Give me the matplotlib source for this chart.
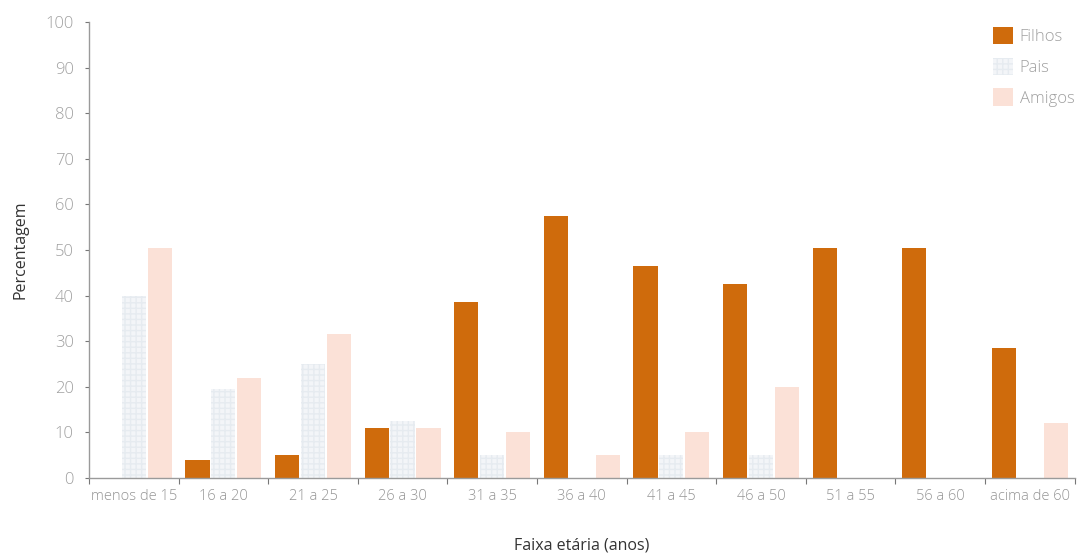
import numpy as np
import matplotlib
matplotlib.use('Agg')
import matplotlib.pyplot as plt
import matplotlib.ticker as ticker

plt.rcParams['font.family'] = ['Open Sans', 'DejaVu Sans']

faixas  = ['menos de 15', '16 a 20', '21 a 25', '26 a 30', '31 a 35', '36 a 40',
           '41 a 45', '46 a 50', '51 a 55', '56 a 60', 'acima de 60']
filhos  = [0, 4, 5, 11, 38.5, 57.5, 46.5, 42.5, 50.5, 50.5, 28.5]
pais    = [40, 19.5, 25, 12.5, 5, 0, 5, 5, 0, 0, 0]
amigos  = [50.5, 22, 31.5, 11, 10, 5, 10, 20, 0, 0, 12]

fig = plt.figure(figsize=(10.8, 5.53), dpi=100)
ax = fig.add_axes([0.0824, 0.1356, 0.9126, 0.8244])

x = np.arange(len(faixas)) + 0.5
w = 0.27
ax.bar(x - 0.29, filhos, w, color='#cf6b0c', label='Filhos')
ax.bar(x, pais, w, color='#f3f5f8', edgecolor='#e6ebf0', hatch='+++',
       linewidth=0, label='Pais')
ax.bar(x + 0.29, amigos, w, color='#fbe1d7', label='Amigos')

ax.set_xlim(0, len(faixas))
ax.set_ylim(0, 100)

# category labels centred, tick marks on the boundaries
ax.xaxis.set_major_locator(ticker.FixedLocator(x))
ax.set_xticklabels(faixas)
ax.xaxis.set_minor_locator(ticker.MultipleLocator(1))
ax.tick_params(axis='x', which='major', length=0, pad=8, labelsize=10.5,
               labelcolor='#959595')
ax.tick_params(axis='x', which='minor', length=4, color='#777777', width=0.8)
ax.yaxis.set_major_locator(ticker.MultipleLocator(10))
ax.tick_params(axis='y', length=3, color='#777777', width=0.8, pad=8,
               labelsize=12, labelcolor='#a0a0a0')
for lab in ax.get_xticklabels() + ax.get_yticklabels():
    lab.set_fontweight('light')

for s in ['top', 'right']:
    ax.spines[s].set_visible(False)
for s in ['left', 'bottom']:
    ax.spines[s].set_color('#9a9a9a')
    ax.spines[s].set_linewidth(1)

ax.set_ylabel('Percentagem', fontsize=11.5, color='#333333', labelpad=12)
ax.set_xlabel('Faixa etária (anos)', fontsize=11.5, color='#333333', labelpad=24)

leg = ax.legend(loc='upper right', frameon=False, handlelength=1.2,
                handleheight=1.2, handletextpad=0.4, labelspacing=0.75,
                fontsize=12, bbox_to_anchor=(1.015, 1.022))
for t in leg.get_texts():
    t.set_color('#a0a0a0')
    t.set_fontweight('light')

fig.savefig('out.png', dpi=100)
